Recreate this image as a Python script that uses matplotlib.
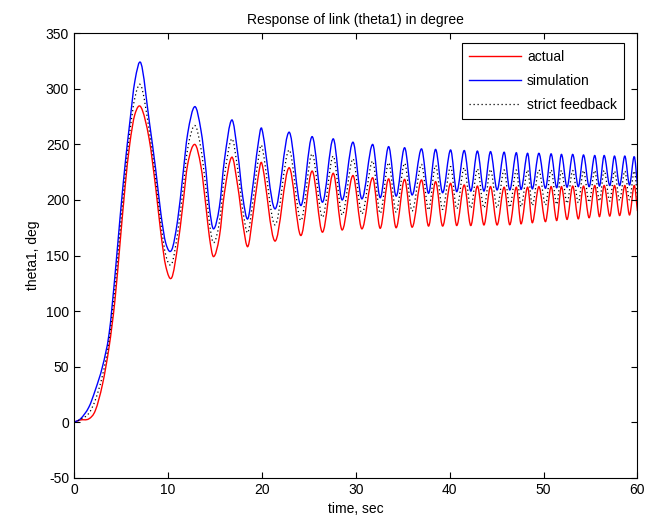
import numpy as np
import matplotlib
matplotlib.use('Agg')
import matplotlib.pyplot as plt
from matplotlib.path import Path
from matplotlib.patches import PathPatch
from matplotlib.lines import Line2D

plt.rcParams['font.family'] = ['Liberation Sans', 'DejaVu Sans']
plt.rcParams['axes.unicode_minus'] = False

# early rise (t < 7)
rise_t = [0, 0.69, 1.58, 2.27, 3.03, 3.74, 4.35, 4.9, 5.44, 5.93, 6.48]
rise_actual = [0, 2, 3, 10.5, 34, 68, 109, 161, 212, 250, 277]
rise_sim = [0, 3, 13.5, 29, 50, 80, 131, 184, 232, 269, 307]
rise_strict = [0, 2.5, 8, 20, 42, 74, 120, 172, 222, 260, 292]

# flanks of the first big swings (7 < t < 20)
flank_t = [8.0, 8.71, 9.25, 9.78, 11.03, 11.57, 12.1, 13.52, 14.05, 14.41,
           15.48, 16.01, 17.44, 17.97, 19.03, 19.56]
flank_actual = [255, 210, 170, 140, 158, 194, 232, 230, 194, 167,
                167, 206, 212, 179, 185, 218]
flank_sim = [271.6, 226.6, 187.7, 160.8, 181.6, 220.7, 259.6, 262.6, 226.6, 193.7,
             193.7, 235.6, 241.6, 202.7, 211.7, 247.6]
flank_strict = [263, 218, 179, 150, 170, 207, 246, 246, 210, 180,
                180, 221, 227, 191, 198, 233]

# peaks
peak_t = [7.13, 12.86, 16.8, 20.0, 22.9, 25.35, 27.6, 29.7, 31.8, 33.5,
          35.2, 37.0, 38.5, 40.1, 41.55, 42.95, 44.35, 45.8, 47.1, 48.3,
          49.5, 50.8, 51.9, 53.1, 54.25, 55.45, 56.45, 57.55, 58.65, 59.65]
peak_actual = [283.5, 250, 238.5, 233, 229, 226, 224, 222, 220, 219,
               218.5, 218, 216.5, 215, 213.5, 212.5, 212, 211.5, 211.5, 211.5,
               212, 212, 212, 212.5, 212.5, 213, 213, 213, 213, 213]
peak_sim = [323, 284, 272, 264, 261, 257, 255, 252, 250, 248,
            247, 246, 245.5, 245, 244.5, 244, 243.5, 243, 242.5, 242,
            242, 241.5, 241, 241, 240.5, 240, 240, 239.5, 239.5, 239]
peak_strict = [303, 267, 255, 248.5, 245, 241.5, 239.5, 237, 235, 233.5,
               233, 232, 231, 230, 229, 228, 227.5, 227, 227, 227,
               227, 227, 226.5, 226.5, 226.5, 226.5, 226.5, 226, 226, 226]

# troughs
trough_t = [10.4, 14.85, 18.5, 21.4, 24.15, 26.45, 28.55, 30.65, 32.6, 34.3,
            36.0, 37.75, 39.25, 40.75, 42.25, 43.65, 45.05, 46.4, 47.6, 48.8,
            50.2, 51.4, 52.5, 53.7, 54.85, 55.95, 57.05, 58.1, 59.15]
trough_actual = [130, 149, 158, 163, 168, 171, 173, 174, 174.5, 175,
                 175.5, 176.5, 176.5, 177, 177, 177.5, 177.5, 177.7, 178.5, 179.5,
                 180.5, 181.5, 182.5, 183, 184, 185, 185.5, 186, 186.5]
trough_sim = [155, 174, 183, 192, 195, 198, 200, 201, 202, 203.5,
              204.5, 206, 206.5, 207.5, 208, 208, 209, 209, 209.5, 210,
              210.5, 211, 211.5, 212, 212, 212.5, 213, 213, 213.5]
trough_strict = [142.5, 161.5, 170.5, 177.5, 181.5, 184.5, 186.5, 187.5, 188, 189,
                 190, 191, 191.5, 192, 192.5, 193, 193, 193.5, 194, 195,
                 195.5, 196, 197, 197.5, 198, 199, 199, 199.5, 200]

# last sample at t = 60
end_t = [60]
end_actual = [190]
end_sim = [213]
end_strict = [202]


def series(*parts):
    t = np.concatenate([p[0] for p in parts])
    v = np.concatenate([p[1] for p in parts])
    order = np.argsort(t, kind='stable')
    return t[order], v[order]


def smooth_path(t, v):
    # draw the read samples as a smooth (Catmull-Rom style) bezier path
    n = len(t)
    slope = np.zeros(n)
    slope[1:-1] = (v[2:] - v[:-2]) / (t[2:] - t[:-2])
    slope[0] = (v[1] - v[0]) / (t[1] - t[0])
    slope[-1] = (v[-1] - v[-2]) / (t[-1] - t[-2])
    verts = [(t[0], v[0])]
    codes = [Path.MOVETO]
    for i in range(n - 1):
        h = (t[i + 1] - t[i]) / 3
        verts += [(t[i] + h, v[i] + slope[i] * h),
                  (t[i + 1] - h, v[i + 1] - slope[i + 1] * h),
                  (t[i + 1], v[i + 1])]
        codes += [Path.CURVE4] * 3
    return Path(verts, codes)


t_act, v_act = series((rise_t, rise_actual), (flank_t, flank_actual),
                      (peak_t, peak_actual), (trough_t, trough_actual), (end_t, end_actual))
t_sim, v_sim = series((rise_t, rise_sim), (flank_t, flank_sim),
                      (peak_t, peak_sim), (trough_t, trough_sim), (end_t, end_sim))
t_str, v_str = series((rise_t, rise_strict), (flank_t, flank_strict),
                      (peak_t, peak_strict), (trough_t, trough_strict), (end_t, end_strict))

fig = plt.figure(figsize=(6.47, 5.27), dpi=100)
ax = fig.add_axes([0.1144, 0.0935, 0.8709, 0.8433])

styles = [
    (t_act, v_act, dict(edgecolor='#ff0000', lw=1.0), 'actual'),
    (t_sim, v_sim, dict(edgecolor='#0000ff', lw=1.0), 'simulation'),
    (t_str, v_str, dict(edgecolor='black', lw=0.9, linestyle=(0, (1, 2.2))), 'strict feedback'),
]
handles = []
for t, v, st, lab in styles:
    ax.add_patch(PathPatch(smooth_path(t, v), facecolor='none', **st))
    handles.append(Line2D([], [], color=st['edgecolor'], lw=st['lw'],
                          linestyle=st.get('linestyle', '-'), label=lab))

ax.set_xlim(0, 60)
ax.set_ylim(-50, 350)
ax.set_xticks(np.arange(0, 61, 10))
ax.set_yticks(np.arange(-50, 351, 50))
ax.tick_params(direction='in', top=True, right=True, length=4, width=0.8, labelsize=10)
for s in ax.spines.values():
    s.set_linewidth(0.8)

ax.set_title('Response of link (theta1) in degree', fontsize=10, pad=7)
ax.set_xlabel('time, sec', fontsize=10, labelpad=4)
ax.set_ylabel('theta1, deg', fontsize=10, labelpad=4)

leg = ax.legend(handles=handles, loc='upper right', bbox_to_anchor=(0.976, 0.978),
                borderaxespad=0, fontsize=10, handlelength=3.8, handletextpad=0.4,
                labelspacing=0.72, borderpad=0.5, fancybox=False, framealpha=1,
                edgecolor='black')
leg.get_frame().set_linewidth(0.8)

fig.savefig('out.png', dpi=100)
